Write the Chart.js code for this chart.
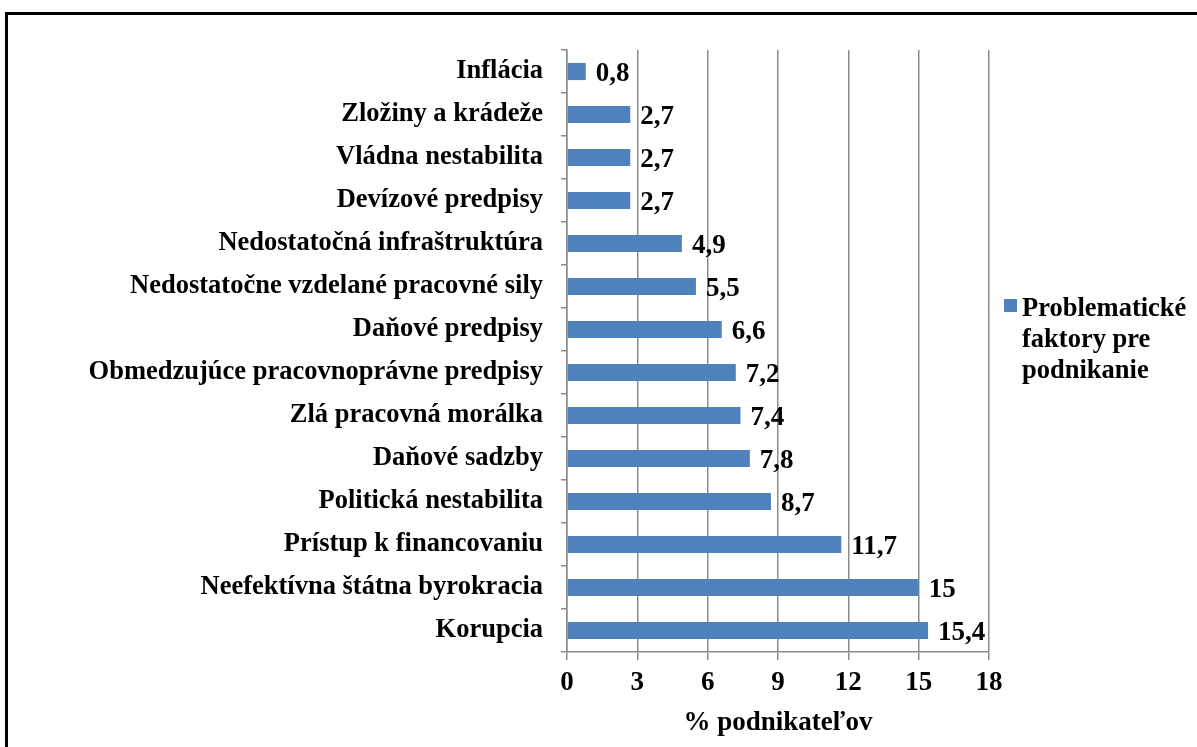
<!DOCTYPE html>
<html>
<head>
<meta charset="utf-8">
<script src="https://cdn.jsdelivr.net/npm/chart.js@4/dist/chart.umd.min.js"></script>
<style>
html,body{margin:0;padding:0;background:#fff;}
canvas{display:block;}
</style>
</head>
<body>
<canvas id="c" width="1197" height="747"></canvas>
<script>
const categories = [
  "Inflácia",
  "Zložiny a krádeže",
  "Vládna nestabilita",
  "Devízové predpisy",
  "Nedostatočná infraštruktúra",
  "Nedostatočne vzdelané pracovné sily",
  "Daňové predpisy",
  "Obmedzujúce pracovnoprávne predpisy",
  "Zlá pracovná morálka",
  "Daňové sadzby",
  "Politická nestabilita",
  "Prístup k financovaniu",
  "Neefektívna štátna byrokracia",
  "Korupcia"
];
const values = [0.8, 2.7, 2.7, 2.7, 4.9, 5.5, 6.6, 7.2, 7.4, 7.8, 8.7, 11.7, 15, 15.4];
const seriesName = "Problematické faktory pre podnikanie";
const legendLines = ["Problematické", "faktory pre", "podnikanie"];
const xTicks = [0, 3, 6, 9, 12, 15, 18];
const axisTitle = "% podnikateľov";

const FONT = "'Liberation Serif', 'Times New Roman', serif";
const BAR = "#4F81BD";
const GRID = "#8C8C8C";

const fmt = v => String(v).replace('.', ',');

const framePlugin = {
  id: 'frame',
  beforeDraw(chart) {
    const ctx = chart.ctx;
    ctx.save();
    ctx.fillStyle = '#fff';
    ctx.fillRect(0, 0, chart.width, chart.height);
    ctx.strokeStyle = '#000';
    ctx.lineWidth = 3;
    ctx.strokeRect(6.5, 13.5, 1400, 1000);
    ctx.restore();
  }
};

const labelPlugin = {
  id: 'valLabels',
  afterDatasetsDraw(chart) {
    const ctx = chart.ctx;
    const meta = chart.getDatasetMeta(0);
    ctx.save();
    ctx.font = "bold 27px " + FONT;
    ctx.fillStyle = '#000';
    ctx.textAlign = 'left';
    ctx.textBaseline = 'middle';
    meta.data.forEach((el, i) => {
      ctx.fillText(fmt(chart.data.datasets[0].data[i]), el.x + 10, el.y + 3);
    });
    ctx.restore();
  }
};

const legendPlugin = {
  id: 'sideLegend',
  afterDraw(chart) {
    const ctx = chart.ctx;
    const ds = chart.data.datasets[0];
    ctx.save();
    ctx.fillStyle = ds.backgroundColor;
    ctx.fillRect(1004, 299, 13, 13);
    ctx.fillStyle = '#000';
    ctx.font = "bold 26.5px " + FONT;
    ctx.textAlign = 'left';
    ctx.textBaseline = 'alphabetic';
    legendLines.forEach((t, i) => {
      ctx.fillText(t, 1022, 316 + i * 31);
    });
    ctx.restore();
  }
};

new Chart(document.getElementById('c'), {
  type: 'bar',
  data: {
    labels: categories,
    datasets: [{
      label: seriesName,
      data: values,
      backgroundColor: BAR,
      borderWidth: 0,
      barPercentage: 0.8,
      categoryPercentage: 0.5
    }]
  },
  options: {
    indexAxis: 'y',
    responsive: false,
    animation: false,
    devicePixelRatio: 1,
    layout: { padding: { top: 50, right: 208, left: 0, bottom: 0 } },
    plugins: {
      legend: { display: false },
      tooltip: { enabled: false }
    },
    scales: {
      x: {
        min: 0, max: 18,
        afterBuildTicks(scale) { scale.ticks = xTicks.map(v => ({ value: v })); },
        afterFit(scale) { scale.height = 95; },
        grid: { color: GRID, lineWidth: 1.5, tickLength: 8, drawTicks: true },
        border: { color: GRID, width: 1.5 },
        ticks: {
          color: '#000',
          font: { family: FONT, size: 27, weight: 'bold' },
          padding: 7,
          maxRotation: 0,
          autoSkip: false
        },
        title: {
          display: true,
          text: axisTitle,
          color: '#000',
          font: { family: FONT, size: 27, weight: 'bold' },
          padding: { top: 4, bottom: 8 }
        }
      },
      y: {
        afterFit(scale) { scale.width = 567; },
        grid: { drawOnChartArea: false, drawTicks: true, tickLength: 6, color: GRID, lineWidth: 1.5 },
        border: { color: GRID, width: 1.5 },
        ticks: {
          color: '#000',
          font: { family: FONT, size: 26.5, weight: 'bold' },
          padding: 18,
          autoSkip: false
        }
      }
    }
  },
  plugins: [framePlugin, labelPlugin, legendPlugin]
});
</script>
</body>
</html>
